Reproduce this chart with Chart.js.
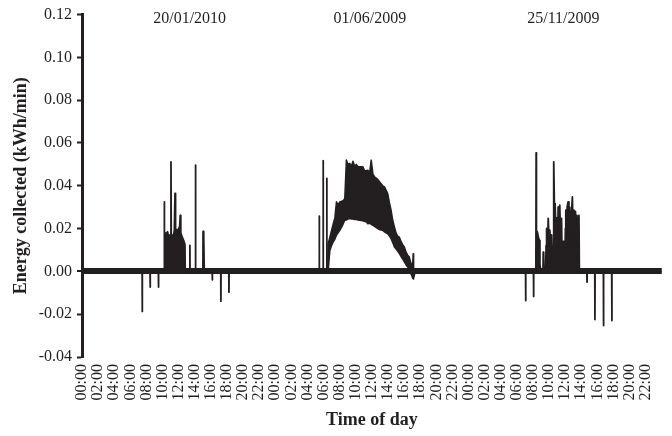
<!DOCTYPE html>
<html>
<head>
<meta charset="utf-8">
<script src="https://cdn.jsdelivr.net/npm/chart.js@4"></script>
<style>
  html, body { margin: 0; padding: 0; background: #fff; }
  #wrap { width: 672px; height: 436px; position: relative; }
</style>
</head>
<body>
<div id="wrap"><canvas id="c"></canvas></div>
<script>
// ---- data (minutes from start of each day, energy kWh/min) ----
const tickLabels = [
  "00:00","02:00","04:00","06:00","08:00","10:00","12:00","14:00","16:00","18:00","20:00","22:00",
  "00:00","02:00","04:00","06:00","08:00","10:00","12:00","14:00","16:00","18:00","20:00","22:00",
  "00:00","02:00","04:00","06:00","08:00","10:00","12:00","14:00","16:00","18:00","20:00","22:00"
];
const dayNames = ["20/01/2010", "01/06/2009", "25/11/2009"];
const dayNameMinute = [802, 705, 707];

const day1Points = [
  [0,0],[448,0],[449,-0.0187],[450,0],[507,0],[508,-0.0073],[509,0],[569,0],[570,-0.0073],[571,0],
  [612,0],[613,0.0325],[615,0.0175],[619,0.0178],[623,0.017],[630,0.018],[638,0.0185],[645,0.016],
  [655,0.017],[661,0.0165],[663,0.0512],[665,0.016],[672,0.017],[680,0.0162],[688,0.019],[693,0.0364],
  [697,0.019],[705,0.0195],[712,0.0185],[720,0.02],[728,0.021],[732,0.0262],[736,0.018],[742,0.0169],
  [750,0.0155],[757,0.0145],[767,0.0126],[769,0],
  [803,0],[804,0.0122],[805,0],[845,0],[846,0.0497],[847,0],
  [901,0],[902,0.0187],[905,0.017],[909,0.0159],[911,0],
  [970,0],[971,-0.0039],[972,0],[1034,0],[1035,-0.0139],[1036,0],[1094,0],[1095,-0.0097],[1096,0],[1440,0]
];
const day2Points = [
  [0,0],[327,0],[328,0.0258],[329,0],[356,0],[357,0.0517],[358,0],[383,0],[384,0.0434],[385,0],[1440,0]
];
const day2BandMinutes = [390,394,407,419,431,444,456,468,481,505,518,530,542,555,567,579,592,604,616,641,653,666,678,690,703,715,728,740,764,777,789,801,814,826,838,851,863,875,888,900,912,925,937,949,962,975,987,999,1010,1018,1023,1028,1031,1036,1042];
const day2Upper = [0,0.013,0.016,0.019,0.022,0.025,0.0325,0.031,0.0325,0.033,0.034,0.052,0.050,0.0505,0.049,0.0515,0.049,0.050,0.049,0.0489,0.0489,0.047,0.047,0.0473,0.046,0.052,0.0455,0.0442,0.043,0.0419,0.041,0.040,0.0395,0.038,0.0364,0.032,0.0286,0.024,0.0208,0.018,0.0165,0.016,0.014,0.0125,0.0114,0.009,0.0075,0.0067,0.004,0.0028,0.002,0.0083,0.001,0,0];
const day2Lower = [0,0,0.0098,0.012,0.0137,0.015,0.0169,0.018,0.0192,0.022,0.0239,0.024,0.0245,0.0247,0.0245,0.0245,0.0243,0.0242,0.024,0.0238,0.0236,0.0233,0.0232,0.0223,0.0225,0.022,0.0215,0.021,0.02,0.0195,0.0193,0.0192,0.0185,0.018,0.0176,0.0165,0.0153,0.0135,0.0114,0.0105,0.0095,0.0083,0.007,0.0058,0.0044,0.003,0.002,0.0012,-0.0011,-0.002,-0.0031,-0.0035,-0.003,-0.002,0];
const day3Points = [
  [0,0],[425,0],[426,-0.0136],[427,0],[484,0],[485,-0.0117],[486,0],
  [502,0],[504,0.0554],[506,0.019],[513,0.0184],[520,0.016],[528,0.0145],[532,0.003],[540,0],
  [555,0],[557,0.009],[560,0.0084],[563,0],[575,0],[578,0.012],[582,0.0201],[587,0.004],[594,0.0248],
  [600,0.015],[606,0.0193],[612,0.01],[619,0.017],[625,0.003],[630,0.012],[634,0.004],[636,0.0512],
  [640,0.03],[645,0.0318],[651,0.0318],[655,0.012],[658,0.025],[664,0.006],[668,0.0301],[675,0.02],
  [680,0.031],[686,0.015],[693,0.0248],[698,0.003],[705,0.014],[710,0.002],[717,0],[722,0.02],
  [725,0.0286],[730,0.012],[735,0.03],[742,0.0325],[748,0.016],[754,0.03],[760,0.008],[768,0.028],
  [774,0.0348],[780,0.014],[786,0.0286],[791,0.02],[797,0.028],[802,0.012],[808,0.0262],[815,0.016],
  [823,0.0262],[826,0],
  [882,0],[883,-0.005],[884,0],[941,0],[942,-0.0225],[943,0],[1005,0],[1006,-0.0253],[1007,0],
  [1067,0],[1068,-0.023],[1069,0],[1440,0]
];

// ---- build library data ----
const DAY = 1440;
const mainSeries = []
  .concat(day1Points.map(p => ({x: p[0], y: p[1]})))
  .concat(day2Points.map(p => ({x: p[0] + DAY, y: p[1]})))
  .concat(day3Points.map(p => ({x: p[0] + 2 * DAY, y: p[1]})));
const upperSeries = day2BandMinutes.map((m, i) => ({x: m + DAY, y: day2Upper[i]}));
const lowerSeries = day2BandMinutes.map((m, i) => ({x: m + DAY, y: day2Lower[i]}));

const INK = '#231f20';
const SERIF = "'Liberation Serif', 'Times New Roman', serif";

const dateLabelPlugin = {
  id: 'dateLabels',
  afterDatasetsDraw(chart) {
    const ctx = chart.ctx, xs = chart.scales.x, area = chart.chartArea;
    ctx.save();
    ctx.font = "16px " + SERIF;
    ctx.fillStyle = INK;
    ctx.textAlign = 'center';
    ctx.textBaseline = 'middle';
    dayNames.forEach((t, i) => {
      ctx.fillText(t, xs.getPixelForValue(dayNameMinute[i] + i * DAY), area.top + 4);
    });
    ctx.restore();
  }
};

new Chart(document.getElementById('c'), {
  type: 'line',
  data: {
    datasets: [
      { data: upperSeries, borderColor: INK, backgroundColor: INK, borderWidth: 1.5, borderJoinStyle: 'round', fill: '+1', pointRadius: 0, tension: 0 },
      { data: lowerSeries, borderColor: INK, backgroundColor: INK, borderWidth: 1.5, borderJoinStyle: 'round', fill: false, pointRadius: 0, tension: 0 },
      { data: mainSeries, borderColor: INK, backgroundColor: INK, borderWidth: 1.8, borderJoinStyle: 'round', fill: 'origin', pointRadius: 0, tension: 0 }
    ]
  },
  options: {
    responsive: true,
    maintainAspectRatio: false,
    animation: false,
    events: [],
    layout: { padding: { top: 6, right: 5, left: 0, bottom: 0 } },
    plugins: { legend: { display: false }, tooltip: { enabled: false } },
    scales: {
      x: {
        type: 'linear',
        min: 0, max: 3 * DAY,
        afterBuildTicks(scale) { scale.ticks = tickLabels.map((_, i) => ({ value: i * 120 })); },
        afterFit(scale) { scale.height = 79; },
        border: { display: false },
        grid: { display: false, drawTicks: false },
        ticks: {
          autoSkip: false, minRotation: 90, maxRotation: 90, padding: 7,
          color: INK, font: { family: SERIF, size: 16 },
          callback: (v, i) => tickLabels[i]
        },
        title: { display: true, text: 'Time of day', color: INK, font: { family: SERIF, size: 18, weight: 'bold' }, padding: { top: 0, bottom: 5 } }
      },
      y: {
        min: -0.04, max: 0.12,
        afterFit(scale) { scale.width = 82; },
        border: { display: true, color: INK, width: 3 },
        grid: {
          drawOnChartArea: true, drawTicks: true, tickLength: 5,
          color: c => (c.tick && Math.abs(c.tick.value) < 1e-9) ? INK : 'rgba(0,0,0,0)',
          lineWidth: c => (c.tick && Math.abs(c.tick.value) < 1e-9) ? 6 : 1,
          tickColor: INK, tickWidth: 2
        },
        ticks: {
          stepSize: 0.02, padding: 5, color: INK, font: { family: SERIF, size: 16 },
          callback: v => Number(v).toFixed(2)
        },
        title: { display: true, text: 'Energy collected (kWh/min)', color: INK, font: { family: SERIF, size: 18, weight: 'bold' }, padding: { top: 11, bottom: 0 } }
      }
    }
  },
  plugins: [dateLabelPlugin]
});
</script>
</body>
</html>
